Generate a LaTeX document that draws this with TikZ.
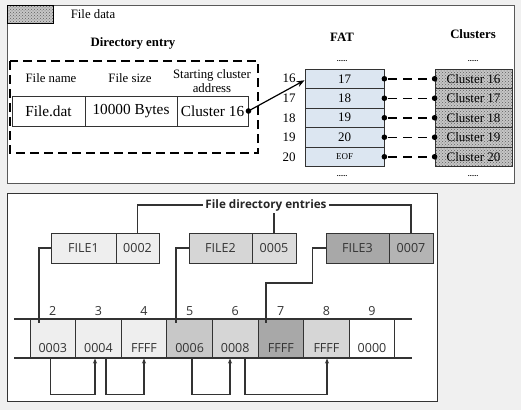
\documentclass[tikz,border=0pt]{standalone}
\usepackage{fontspec}
\setmainfont{Liberation Serif}
\newfontfamily\osans{Open Sans}
\usetikzlibrary{patterns,arrows.meta,calc}
\definecolor{bg}{HTML}{F0F0F0}
\definecolor{fatblue}{HTML}{DCE6F1}
\definecolor{ln}{HTML}{333333}
\definecolor{ca}{HTML}{EEEEEE}
\definecolor{cb}{HTML}{C8C8C8}
\definecolor{cc}{HTML}{D6D6D6}
\definecolor{cd}{HTML}{A8A8A8}
\definecolor{ce}{HTML}{B4B4B4}
\begin{document}
\begin{tikzpicture}[x=1pt,y=-1pt,
  stipple/.style={preaction={fill=gray!45},pattern=crosshatch dots,pattern color=gray!75!black},
  ttext/.style={font=\fontsize{12.8}{16}\selectfont},
  bigtext/.style={font=\fontsize{15.3}{18}\selectfont},
  btitle/.style={font=\bfseries\fontsize{12.8}{15}\selectfont},
  entcell/.style={draw=ln,line width=0.9,minimum height=30,inner sep=0,bigtext},
  fatcell/.style={draw=ln,line width=0.8,fill=fatblue,minimum width=79,minimum height=19.5,inner sep=0,font=\fontsize{13}{14}\selectfont},
  clcell/.style={draw=ln,line width=0.8,stipple,minimum width=77,minimum height=19.5,inner sep=0,font=\fontsize{13}{14}\selectfont},
  rowlbl/.style={font=\fontsize{13}{14}\selectfont,inner sep=0},
  dashconn/.style={line width=1.5,dash pattern=on 9pt off 6pt},
  sans/.style={font=\osans\fontsize{12.5}{14}\selectfont,text=black!80},
  dcell/.style={draw=ln,line width=1,minimum height=30,inner sep=0,sans},
  tcell/.style={draw=ln,line width=1,minimum width=45.6,minimum height=39,inner sep=0},
  conn/.style={draw=ln,line width=1.1},
  arr/.style={conn,-{Stealth[length=5pt,width=4pt]}}]
\useasboundingbox (0,0) rectangle (521,410);
\fill[bg] (0,0) rectangle (521,410);

% ---------- top panel ----------
\draw[fill=white,draw=black!65,line width=1] (7,5) rectangle (514,183);
\path[stipple,draw=black,line width=0.8] (7,5) rectangle (53,23);
\node[ttext] (legend) at (93,14) {File data};
\node[btitle] (dirttl) at (133,43) {Directory entry};
\draw[line width=1.6,dash pattern=on 9pt off 5pt] (10,61) rectangle (258,153);
\node[ttext] (h1) at (51,78) {File name};
\node[ttext] (h2) at (130,78) {File size};
\node[ttext,align=center] (h3) at (212,81) {Starting cluster\\[-2pt]address};
\node[entcell,minimum width=73] (e1) at (48.5,111) {File.dat};
\node[entcell,minimum width=92] (e2) at (131,111) {10000 Bytes};
\node[entcell,minimum width=71] (e3) at (212.5,111) {Cluster 16};

\node[btitle] (fatttl) at (342,37) {FAT};
\node[btitle] (clttl) at (473,34) {Clusters};
\node[font=\bfseries\fontsize{7}{8}\selectfont] (d1) at (342,61) {......};
\node[font=\bfseries\fontsize{7}{8}\selectfont] (d2) at (342,176) {......};
\node[font=\bfseries\fontsize{7}{8}\selectfont] (d3) at (473,61) {......};
\node[font=\bfseries\fontsize{7}{8}\selectfont] (d4) at (473,176) {......};

\node[fatcell] (f16) at (344.5,78.75) {17};
\node[fatcell] (f17) at (344.5,98.25) {18};
\node[fatcell] (f18) at (344.5,117.75) {19};
\node[fatcell] (f19) at (344.5,137.25) {20};
\node[fatcell,font=\fontsize{9}{10}\selectfont] (f20) at (344.5,156.75) {EOF};

\foreach \n/\y in {16/78.75,17/98.25,18/117.75,19/137.25,20/156.75}{
  \node[rowlbl] (l\n) at (289,\y) {\n};
  \node[clcell] (c\n) at (473.5,\y) {Cluster \n};
  \draw[dashconn] ($(f\n.east)+(4,0)$) -- ($(c\n.west)+(-4,0)$);
  \fill (f\n.east) circle (2.8);
  \fill (c\n.west) circle (2.8);
}
\fill (e3.east) circle (2.8);
\draw[line width=1.2,-{Stealth[length=8pt,width=6pt]}] (e3.east) -- ($(f16.west)+(0,1.5)$);

% ---------- bottom panel ----------
\draw[fill=white,draw=ln,line width=1] (7,193) rectangle (437,401);
\node[font=\osans\bfseries\fontsize{11.7}{13}\selectfont,inner sep=2,text=black!85] (ttl) at (266,205) {File directory entries};

\node[dcell,fill=ca,minimum width=65] (f1n) at (83.5,248) {FILE1};
\node[dcell,fill=ca,minimum width=43] (f1v) at (137.5,248) {0002};
\node[dcell,fill=cc,minimum width=63] (f2n) at (220.5,248) {FILE2};
\node[dcell,fill=cc!85!white,minimum width=44] (f2v) at (274,248) {0005};
\node[dcell,fill=cd,minimum width=63] (f3n) at (357.5,248) {FILE3};
\node[dcell,fill=ce,minimum width=44] (f3v) at (411,248) {0007};

\draw[conn] (f1v.north) |- (ttl.west);
\draw[conn] (ttl.east) -| (f3v.north);
\draw[conn] (ttl.south -| f2v.north) -- (f2v.north);

\foreach \k/\lab/\val/\col in {0/2/0003/ca,1/3/0004/ca,2/4/FFFF/ca,3/5/0006/cb,4/6/0008/cc,5/7/FFFF/cd,6/8/FFFF/cc,7/9/0000/white}{
  \node[tcell,fill=\col] (t\lab) at (52.8+45.6*\k,338.5) {};
  \node[sans,inner sep=0] (v\lab) at (52.8+45.6*\k,348) {\val};
  \node[sans,inner sep=0] (n\lab) at (52.8+45.6*\k,311) {\lab};
}
\coordinate (tla) at (14,319);
\coordinate (tlb) at (412,319);
\coordinate (bla) at (14,358);
\coordinate (blb) at (412,358);
\draw[conn] (tla) -- (tlb);
\draw[conn] (bla) -- (blb);

\coordinate (p2) at (39,323);
\coordinate (p5) at (176,323);
\coordinate (p7) at (266,323);
\draw[conn] (f1n.west) -| (p2);
\draw[conn] (f2n.west) -| (p5);
\draw[conn] (f3n.west) -- ++(-13,0) -- ++(0,35) -| (p7);

\draw[arr] ($(t2.south)+(-2,0)$) -- ++(0,36) -| ($(t3.south)+(-3.4,0)$);
\draw[arr] ($(t3.south)+(7.6,0)$) -- ++(0,36) -| (t4.south);
\draw[arr] ($(t5.south)+(2.4,0)$) -- ++(0,36) -| ($(t6.south)+(-5.2,0)$);
\draw[arr] ($(t6.south)+(9.8,0)$) -- ++(0,36) -| ($(t8.south)+(0.6,0)$);
\end{tikzpicture}
\end{document}
